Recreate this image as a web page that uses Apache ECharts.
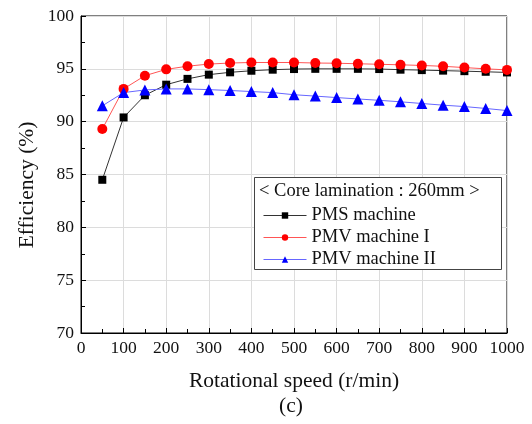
<!DOCTYPE html>
<html><head><meta charset="utf-8">
<script src="https://cdn.jsdelivr.net/npm/echarts@6/dist/echarts.min.js"></script>
<style>html,body{margin:0;padding:0;background:#fff}#c{width:532px;height:424px}</style>
</head><body><div id="c"></div>
<script>
const speeds = [50,100,150,200,250,300,350,400,450,500,550,600,650,700,750,800,850,900,950,1000];
const pms = [84.5,90.4,92.5,93.5,94.05,94.45,94.67,94.82,94.92,94.98,95.0,95.0,95.0,94.98,94.92,94.88,94.83,94.78,94.72,94.66];
const pmv1 = [89.3,93.1,94.35,94.95,95.25,95.45,95.55,95.6,95.6,95.6,95.55,95.53,95.48,95.43,95.38,95.32,95.24,95.12,95.0,94.9];
const pmv2 = [91.5,92.75,93.0,93.1,93.1,93.03,92.95,92.85,92.75,92.55,92.42,92.28,92.15,92.02,91.88,91.72,91.56,91.43,91.25,91.05];
const seriesNames = ['PMS machine','PMV machine I','PMV machine II'];
const legendTitle = '< Core lamination : 260mm >';
const xTitle = 'Rotational speed (r/min)';
const yTitle = 'Efficiency (%)';
const caption = '(c)';

const FONT = '"Liberation Serif","DejaVu Serif",serif';
const chart = echarts.init(document.getElementById('c'));
const pair = arr => speeds.map((s,i)=>[s,arr[i]]);
const tickOnly = {show:true,axisLine:{show:false},axisLabel:{show:false},splitLine:{show:false},
  axisTick:{show:true,inside:true,length:4,lineStyle:{color:'#000'}}};
chart.setOption({
  animation:false,
  grid:{left:81,right:25,top:16,bottom:91,show:true,borderColor:'#000',borderWidth:1,backgroundColor:'transparent'},
  xAxis:[{type:'value',min:0,max:1000,interval:100,
    axisLine:{show:true,lineStyle:{color:'#000',width:1}},
    axisTick:{show:true,inside:true,length:5,lineStyle:{color:'#000'}},
    splitLine:{show:true,lineStyle:{color:'#dcdcdc',width:1}},
    axisLabel:{fontFamily:FONT,fontSize:17.5,color:'#111',margin:6,showMaxLabel:true,showMinLabel:true,formatter:v=>String(v)},
    name:xTitle,nameLocation:'middle',nameGap:37,nameTextStyle:{fontFamily:FONT,fontSize:21.5,color:'#111'}},
    Object.assign({type:'value',min:0,max:1000,interval:50,position:'bottom'},tickOnly)],
  yAxis:[{type:'value',min:70,max:100,interval:5,
    axisLine:{show:true,lineStyle:{color:'#000',width:1}},
    axisTick:{show:true,inside:true,length:5,lineStyle:{color:'#000'}},
    splitLine:{show:true,lineStyle:{color:'#dcdcdc',width:1}},
    axisLabel:{fontFamily:FONT,fontSize:17.5,color:'#111',margin:7}},
    Object.assign({type:'value',min:70,max:100,interval:2.5,position:'left'},tickOnly)],
  legend:{orient:'vertical',left:258,top:201,itemWidth:43,itemHeight:8,itemGap:3,
    lineStyle:{width:1},
    textStyle:{fontFamily:FONT,fontSize:18.5,color:'#111',lineHeight:18},
    data:seriesNames},
  graphic:[
    {type:'rect',shape:{x:254.5,y:177.5,width:247,height:92},style:{fill:'#fff',stroke:'#444',lineWidth:1},z:1},
    {type:'text',x:259,y:191,style:{text:legendTitle,font:'18.5px '+FONT,fill:'#111',verticalAlign:'middle'},z:2},
    {type:'text',x:27,y:185,rotation:Math.PI/2,style:{text:yTitle,font:'21.5px '+FONT,fill:'#111',align:'center',verticalAlign:'middle'}},
    {type:'text',x:291,y:406,style:{text:caption,font:'21.5px '+FONT,fill:'#111',align:'center',verticalAlign:'middle'}}
  ],
  series:[
    {name:seriesNames[0],type:'line',data:pair(pms),symbol:'rect',symbolSize:8,
      itemStyle:{color:'#000'},lineStyle:{color:'#333',width:1},z:3},
    {name:seriesNames[1],type:'line',data:pair(pmv1),symbol:'circle',symbolSize:10,
      itemStyle:{color:'#ff0000'},lineStyle:{color:'#ff5555',width:1},z:3},
    {name:seriesNames[2],type:'line',data:pair(pmv2),symbol:'triangle',symbolSize:11,
      itemStyle:{color:'#0000ff'},lineStyle:{color:'#6666ff',width:1},z:3}
  ]
});
</script></body></html>
